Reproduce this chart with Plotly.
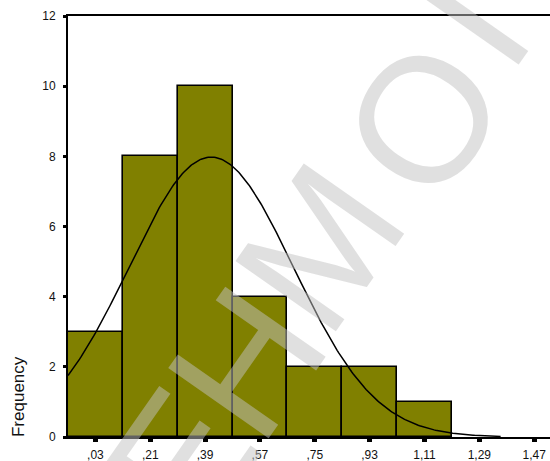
import numpy as np
import plotly.graph_objects as go

# Histogram data (bin centers as labelled, bin width 0.18)
bin_centers = [0.03, 0.21, 0.39, 0.57, 0.75, 0.93, 1.11]
frequencies = [3, 8, 10, 4, 2, 2, 1]
bin_width = 0.18

# Normal curve parameters
curve_mean = 0.41
curve_sd = 0.27
n_total = sum(frequencies)

# Axis tick labels
x_tick_vals = [0.03, 0.21, 0.39, 0.57, 0.75, 0.93, 1.11, 1.29, 1.47]
x_tick_text = [",03", ",21", ",39", ",57", ",75", ",93", "1,11", "1,29", "1,47"]
y_tick_vals = [0, 2, 4, 6, 8, 10, 12]

# Watermark letters and their (paper) positions
wm_letters = ["E", "H", "M", "O", "I"]
wm_x = [0.235, 0.370, 0.522, 0.737, 0.840]
wm_y = [-0.055, 0.178, 0.449, 0.755, 0.985]

FONT = "Arial, Liberation Sans, sans-serif"

xs = np.linspace(-0.06, 1.36, 300)
ys = n_total * bin_width / (curve_sd * np.sqrt(2 * np.pi)) * np.exp(-0.5 * ((xs - curve_mean) / curve_sd) ** 2)

fig = go.Figure()
fig.add_trace(go.Bar(
    x=bin_centers, y=frequencies, width=bin_width,
    marker=dict(color="#808000", line=dict(color="black", width=1.6)),
    showlegend=False, hoverinfo="skip",
))
fig.add_trace(go.Scatter(
    x=xs, y=ys, mode="lines",
    line=dict(color="black", width=1.5),
    showlegend=False, hoverinfo="skip",
))

annotations = [
    dict(
        text="Frequency", xref="paper", yref="paper",
        x=-0.1037, y=0.095, xanchor="center", yanchor="middle",
        textangle=-90, showarrow=False,
        font=dict(family=FONT, size=17, color="#111"),
    )
]
for letter, ax, ay in zip(wm_letters, wm_x, wm_y):
    annotations.append(dict(
        text=letter, xref="paper", yref="paper",
        x=ax, y=ay, xanchor="center", yanchor="middle",
        textangle=-55, showarrow=False,
        font=dict(family=FONT, size=178, color="rgba(193,193,193,0.5)"),
    ))

fig.update_layout(
    width=550, height=461,
    margin=dict(l=68, r=0, t=16, b=24),
    paper_bgcolor="white", plot_bgcolor="white",
    bargap=0,
    font=dict(family=FONT, size=12, color="#111"),
    xaxis=dict(
        range=[-0.06, 1.522],
        tickmode="array", tickvals=x_tick_vals, ticktext=x_tick_text,
        showgrid=False, zeroline=False,
        showline=True, linecolor="black", linewidth=2, mirror=True,
        ticks="outside", ticklen=3, tickwidth=5, tickcolor="black",
        ticklabelstandoff=3,
        tickfont=dict(family=FONT, size=12, color="#111"),
    ),
    yaxis=dict(
        range=[0, 12],
        tickmode="array", tickvals=y_tick_vals,
        showgrid=False, zeroline=False,
        showline=True, linecolor="black", linewidth=2,
        ticks="outside", ticklen=3, tickwidth=3, tickcolor="black",
        ticklabelstandoff=5,
        tickfont=dict(family=FONT, size=12, color="#111"),
    ),
    annotations=annotations,
)

fig.write_html("out.html")
